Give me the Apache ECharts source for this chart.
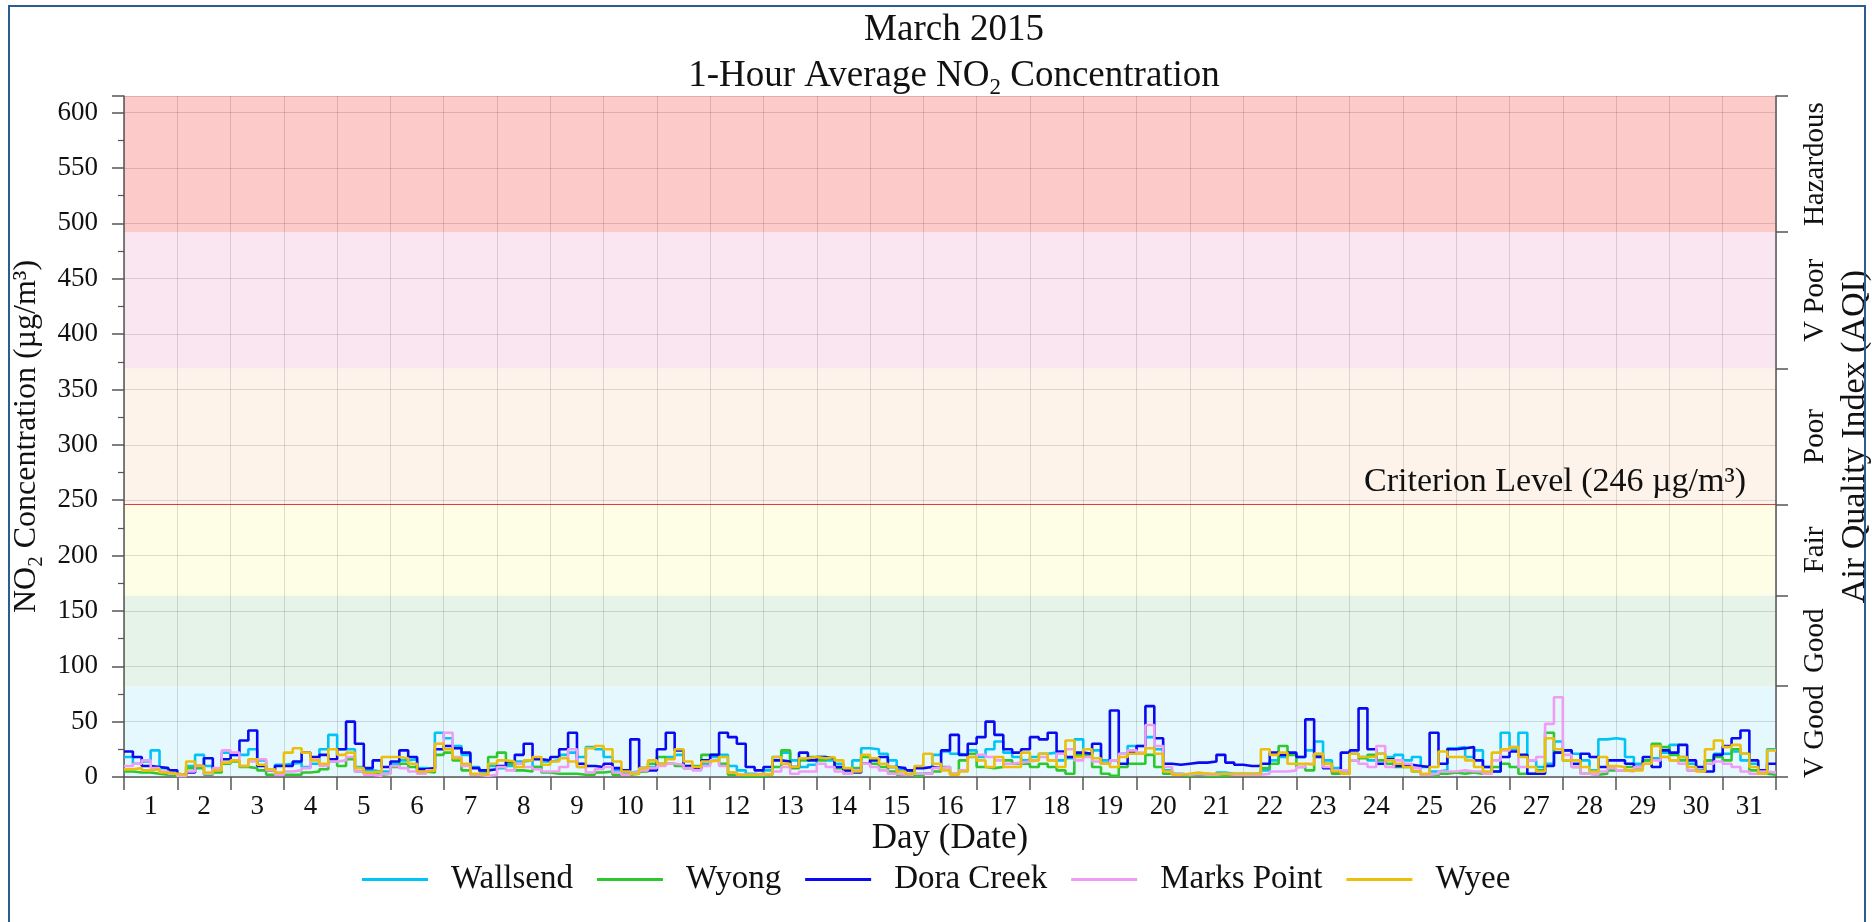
<!DOCTYPE html>
<html>
<head>
<meta charset="utf-8">
<title>March 2015 - 1-Hour Average NO2</title>
<script src="https://cdn.jsdelivr.net/npm/echarts@6/dist/echarts.min.js"></script>
<style>
  html, body { margin: 0; padding: 0; background: #fff; }
  #chart { width: 1872px; height: 922px; }
</style>
</head>
<body>
<div id="chart"></div>
<script>
// x axis day labels
const days = ['1', '2', '3', '4', '5', '6', '7', '8', '9', '10', '11', '12', '13', '14', '15', '16',
  '17', '18', '19', '20', '21', '22', '23', '24', '25', '26', '27', '28', '29', '30', '31'];

// readings are taken every 4 hours (6 per day)
const stepHours = 4;

// AQI band limits (ug/m3) and right axis labels
const aqiBreaks = [0, 82, 164, 246, 369, 492, 615];
const aqiNames = ['V Good', 'Good', 'Fair', 'Poor', 'V Poor', 'Hazardous'];
const criterion = 246;

const wallsend = [
  18, 12, 14, 24, 8, 3,
  2, 10, 20, 10, 6, 22,
  20, 20, 25, 15, 7, 11,
  12, 13, 9, 12, 25, 38,
  25, 25, 9, 6, 5, 5,
  12, 15, 16, 8, 7, 40,
  35, 28, 20, 9, 5, 10,
  8, 10, 14, 15, 9, 14,
  15, 20, 22, 18, 27, 25,
  18, 6, 4, 5, 6, 9,
  12, 18, 20, 10, 8, 12,
  18, 20, 10, 6, 3, 2,
  6, 18, 22, 15, 9, 11,
  18, 15, 12, 6, 15, 26,
  25, 21, 15, 6, 5, 3,
  3, 20, 23, 21, 20, 24,
  18, 25, 32, 22, 18, 15,
  18, 21, 22, 15, 17, 34,
  21, 24, 15, 15, 21, 28,
  28, 36, 25, 6, 3, 2,
  3, 3, 2, 4, 3, 3,
  3, 3, 6, 15, 18, 21,
  18, 24, 32, 15, 8, 6,
  21, 18, 15, 21, 18, 20,
  15, 18, 9, 5, 6, 26,
  27, 18, 24, 9, 5, 40,
  25, 40, 15, 9, 12, 32,
  24, 21, 15, 6, 34, 35,
  34, 18, 12, 15, 17, 22,
  29, 18, 12, 6, 15, 21,
  21, 23, 15, 12, 5, 25
];

const wyong = [
  5, 4, 4, 3, 2, 1,
  1, 8, 8, 2, 4, 12,
  14, 9, 8, 6, 2, 2,
  2, 2, 4, 5, 7, 14,
  10, 16, 5, 3, 2, 3,
  9, 12, 9, 5, 4, 20,
  22, 15, 6, 2, 3, 18,
  22, 12, 6, 5, 9, 4,
  3, 3, 3, 2, 2, 4,
  5, 2, 2, 3, 5, 12,
  18, 12, 10, 8, 10, 20,
  20, 12, 2, 1, 1, 1,
  2, 9, 24, 8, 15, 18,
  15, 17, 8, 3, 8, 18,
  12, 9, 5, 2, 3, 1,
  3, 5, 9, 3, 15, 21,
  9, 8, 9, 15, 12, 12,
  9, 12, 9, 6, 3, 20,
  20, 9, 3, 1, 9, 12,
  12, 20, 9, 3, 2, 1,
  2, 1, 1, 1, 2, 2,
  2, 2, 8, 12, 28, 20,
  9, 6, 20, 12, 3, 3,
  15, 17, 20, 15, 12, 9,
  9, 5, 2, 1, 3, 4,
  3, 4, 3, 3, 9, 12,
  9, 3, 3, 6, 40, 22,
  15, 9, 3, 2, 3, 6,
  6, 9, 9, 15, 30, 27,
  20, 15, 6, 5, 15, 18,
  15, 25, 21, 6, 3, 2
];

const doraCreek = [
  23, 18, 10, 9, 8, 6,
  2, 4, 10, 17, 7, 16,
  20, 33, 42, 10, 6, 10,
  10, 14, 22, 18, 20, 16,
  25, 50, 30, 8, 15, 9,
  14, 24, 18, 7, 8, 25,
  28, 26, 22, 8, 6, 7,
  10, 14, 20, 30, 16, 15,
  18, 25, 40, 12, 10, 9,
  12, 8, 6, 34, 8, 6,
  25, 40, 24, 10, 8, 15,
  20, 40, 36, 30, 9, 6,
  9, 15, 14, 9, 22, 15,
  18, 17, 9, 6, 4, 12,
  15, 18, 9, 8, 6, 8,
  9, 8, 24, 38, 20, 30,
  36, 50, 38, 25, 22, 25,
  36, 34, 40, 23, 18, 22,
  21, 30, 12, 60, 12, 22,
  28, 64, 35, 12, 11, 12,
  13, 13, 14, 20, 13, 11,
  10, 10, 12, 22, 20, 22,
  18, 52, 18, 8, 5, 22,
  24, 62, 25, 12, 16, 10,
  11, 10, 9, 40, 12, 25,
  26, 27, 15, 9, 5, 18,
  23, 20, 3, 3, 10, 22,
  24, 12, 21, 18, 9, 15,
  15, 12, 9, 18, 9, 24,
  22, 29, 15, 9, 5, 20,
  28, 35, 42, 15, 6, 12
];

const marksPoint = [
  10, 12, 15, 8, 5, 3,
  1, 5, 10, 3, 8, 24,
  22, 10, 14, 16, 6, 2,
  5, 6, 8, 16, 10, 14,
  15, 18, 5, 2, 1, 3,
  10, 8, 5, 3, 6, 30,
  40, 18, 10, 2, 1, 2,
  9, 6, 12, 9, 7, 5,
  5, 9, 25, 9, 4, 7,
  9, 4, 2, 4, 6, 8,
  10, 12, 11, 8, 6, 10,
  15, 10, 4, 2, 2, 2,
  3, 5, 9, 3, 5, 5,
  12, 9, 5, 3, 6, 12,
  9, 6, 3, 2, 3, 3,
  3, 8, 9, 3, 6, 18,
  20, 18, 15, 12, 13, 14,
  15, 18, 15, 21, 25, 15,
  18, 14, 12, 15, 21, 24,
  22, 47, 28, 9, 3, 2,
  3, 2, 2, 3, 2, 2,
  2, 2, 3, 5, 5, 6,
  9, 12, 21, 9, 6, 6,
  15, 12, 9, 28, 9, 15,
  12, 8, 2, 3, 5, 5,
  6, 5, 5, 3, 15, 24,
  27, 9, 15, 18, 48, 72,
  20, 9, 3, 2, 5, 8,
  6, 5, 9, 12, 15, 18,
  15, 12, 6, 5, 12, 14,
  12, 9, 5, 3, 5, 4
];

const wyee = [
  7, 8, 6, 7, 4, 3,
  2, 14, 10, 4, 6, 13,
  15, 10, 16, 11, 7, 4,
  22, 26, 22, 15, 12, 25,
  20, 22, 8, 4, 5, 18,
  18, 17, 12, 5, 6, 30,
  25, 17, 12, 3, 2, 12,
  15, 14, 9, 15, 18, 11,
  14, 17, 14, 9, 26, 28,
  25, 14, 5, 3, 8, 15,
  12, 16, 25, 14, 9, 14,
  15, 18, 4, 2, 2, 3,
  2, 18, 12, 9, 17, 18,
  17, 18, 15, 8, 5, 20,
  17, 12, 9, 5, 3, 10,
  21, 12, 6, 2, 5, 18,
  15, 9, 18, 9, 9, 22,
  15, 21, 15, 9, 33, 18,
  25, 17, 12, 9, 18, 21,
  21, 26, 21, 5, 2, 3,
  4, 3, 3, 3, 3, 3,
  3, 3, 25, 20, 22, 12,
  12, 11, 21, 12, 5, 3,
  21, 18, 18, 21, 15, 12,
  9, 5, 3, 9, 23, 18,
  18, 15, 9, 5, 22, 25,
  27, 18, 9, 5, 35, 25,
  15, 15, 9, 5, 18, 10,
  9, 6, 6, 12, 28, 18,
  15, 18, 9, 5, 25, 33,
  27, 29, 21, 9, 3, 24
];

const stations = [
  { name: 'Wallsend', values: wallsend, color: '#00c4f5' },
  { name: 'Wyong', values: wyong, color: '#2ec82e' },
  { name: 'Dora Creek', values: doraCreek, color: '#0a0af2' },
  { name: 'Marks Point', values: marksPoint, color: '#f09cf2' },
  { name: 'Wyee', values: wyee, color: '#ecbf0c' }
];

const bandColors = ['#e4f8fd', '#e6f3e8', '#fefee6', '#fdf3eb', '#fae6f0', '#fdcaca'];

const font = 'Liberation Serif';
const axisColor = '#555';
const gridColor = 'rgba(0, 0, 0, 0.13)';
const totalHours = days.length * 24;

// band centres, used to place the AQI names on the right axis
const bandMids = aqiNames.map((n, i) => (aqiBreaks[i] + aqiBreaks[i + 1]) / 2);

// [hour, value] pairs; last value is held to the end of the month
function toPoints(values) {
  const pts = values.map((v, i) => [i * stepHours, v]);
  pts.push([totalHours, values[values.length - 1]]);
  return pts;
}

const chart = echarts.init(document.getElementById('chart'));

// coloured AQI bands and the criterion line live on an empty series under everything
// (markArea z 1 < axes z 3 so the grid shows through, data lines sit on top at z 4)
const bandSeries = {
  name: 'bands',
  type: 'line',
  data: [],
  z: 0,
  silent: true,
  markArea: {
    silent: true,
    z: 1,
    data: aqiNames.map((n, i) => [
      { yAxis: aqiBreaks[i], itemStyle: { color: bandColors[i] } },
      { yAxis: aqiBreaks[i + 1] }
    ])
  },
  markLine: {
    silent: true,
    z: 2,
    symbol: 'none',
    lineStyle: { color: '#e83a3a', width: 1.2, type: 'solid' },
    label: {
      show: true,
      position: 'insideEndTop',
      distance: [30, 6],
      formatter: 'Criterion Level (' + criterion + ' µg/m³)',
      fontFamily: font,
      fontSize: 34,
      color: '#111'
    },
    data: [{ yAxis: criterion }]
  }
};

const lineSeries = stations.map(s => ({
  name: s.name,
  type: 'line',
  step: 'end',
  symbol: 'none',
  showSymbol: false,
  z: 4,
  data: toPoints(s.values),
  lineStyle: { width: 2.6, color: s.color },
  itemStyle: { color: s.color }
}));

const option = {
  animation: false,
  backgroundColor: '#fff',
  title: {
    left: 949,
    top: 2,
    textAlign: 'center',
    text: '{t|March 2015}\n{t|1-Hour Average NO}{s|2}{t| Concentration}',
    textStyle: {
      rich: {
        t: { fontFamily: font, fontSize: 37, fontWeight: 'normal', lineHeight: 46, color: '#111' },
        s: { fontFamily: font, fontSize: 23, fontWeight: 'normal', lineHeight: 24, verticalAlign: 'bottom', color: '#111' }
      }
    }
  },
  legend: {
    data: stations.map(s => s.name),
    left: 357,
    top: 858,
    icon: 'rect',
    itemWidth: 66,
    itemHeight: 3,
    itemGap: 24,
    textStyle: { fontFamily: font, fontSize: 33, color: '#111', padding: [0, 0, 0, 18] }
  },
  // fixed plot box; keep labels from pushing it around
  grid: { left: 124, right: 96, top: 96, bottom: 145, containLabel: false, outerBoundsMode: 'none' },
  xAxis: [
    {
      type: 'value',
      min: 0,
      max: totalHours,
      interval: 24,
      z: 3,
      name: 'Day (Date)',
      nameLocation: 'middle',
      nameGap: 44,
      nameTextStyle: { fontFamily: font, fontSize: 35, color: '#111' },
      axisLine: { show: true, onZero: false, lineStyle: { color: axisColor, width: 1.5 } },
      axisTick: { show: true, length: 13, lineStyle: { color: axisColor, width: 1.5 } },
      axisLabel: { show: false },
      splitLine: { show: true, lineStyle: { color: gridColor, width: 1 } }
    },
    {
      type: 'category',
      data: days,
      position: 'bottom',
      boundaryGap: true,
      z: 3,
      axisLine: { show: false },
      axisTick: { show: false },
      axisLabel: { interval: 0, margin: 16, fontFamily: font, fontSize: 27, color: '#111' },
      splitLine: { show: false }
    }
  ],
  yAxis: [
    {
      type: 'value',
      min: 0,
      max: aqiBreaks[aqiBreaks.length - 1],
      interval: 50,
      z: 3,
      name: '{a|NO}{s|2}{a| Concentration (µg/m³)}',
      nameLocation: 'middle',
      nameRotate: 90,
      nameGap: 74,
      nameTextStyle: {
        rich: {
          a: { fontFamily: font, fontSize: 32, lineHeight: 40, color: '#111' },
          s: { fontFamily: font, fontSize: 21, lineHeight: 22, verticalAlign: 'bottom', color: '#111' }
        }
      },
      axisLine: { show: true, lineStyle: { color: axisColor, width: 1.5 } },
      axisTick: { show: true, length: 12, lineStyle: { color: axisColor, width: 1.5 } },
      minorTick: { show: true, splitNumber: 2, length: 6, lineStyle: { color: axisColor, width: 1.2 } },
      axisLabel: { margin: 26, showMaxLabel: false, fontFamily: font, fontSize: 27, color: '#111' },
      splitLine: { show: true, lineStyle: { color: gridColor, width: 1 } }
    },
    {
      type: 'value',
      position: 'right',
      min: 0,
      max: aqiBreaks[aqiBreaks.length - 1],
      z: 3,
      name: 'Air Quality Index (AQI)',
      nameLocation: 'middle',
      nameRotate: 90,
      nameGap: 53,
      nameTextStyle: { fontFamily: font, fontSize: 34, color: '#111' },
      axisLine: { show: true, lineStyle: { color: axisColor, width: 1.5 } },
      axisTick: { show: true, length: 12, customValues: aqiBreaks, lineStyle: { color: axisColor, width: 1.5 } },
      axisLabel: {
        customValues: bandMids,
        rotate: 90,
        margin: 25,
        fontFamily: font,
        fontSize: 29,
        color: '#111',
        formatter: v => aqiNames[bandMids.indexOf(v)]
      },
      splitLine: { show: false }
    }
  ],
  graphic: [
    {
      type: 'rect',
      silent: true,
      z: 100,
      shape: { x: 9, y: 6, width: 1856, height: 960 },
      style: { fill: 'none', stroke: '#2b5c93', lineWidth: 2 }
    }
  ],
  series: [bandSeries].concat(lineSeries)
};

chart.setOption(option);
</script>
</body>
</html>
